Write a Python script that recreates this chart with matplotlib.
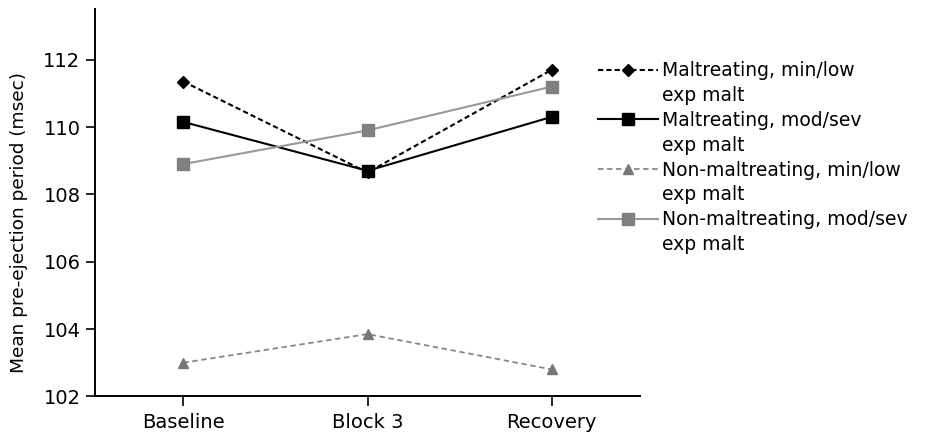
import matplotlib.pyplot as plt
from matplotlib.lines import Line2D

plt.rcParams['font.family'] = ['DejaVu Sans']

# Данные
conditions = ["Baseline", "Block 3", "Recovery"]
malt_low = [111.35, 108.65, 111.7]
malt_sev = [110.15, 108.7, 110.3]
nonmalt_low = [103.0, 103.85, 102.8]
nonmalt_sev = [108.9, 109.9, 111.2]

group_labels = ["Maltreating, min/low", "Maltreating, mod/sev",
                "Non-maltreating, min/low", "Non-maltreating, mod/sev"]
second_line = "exp malt"

x = range(len(conditions))

fig = plt.figure(figsize=(9.27, 4.37), dpi=100)
ax = fig.add_axes([0.1025, 0.093, 0.588, 0.886])

h1, = ax.plot(x, malt_low, linestyle="--", dashes=(2.5, 1.5), color="black", marker="D",
              markersize=6.5, linewidth=1.5)
h2, = ax.plot(x, malt_sev, linestyle="-", color="black", marker="s", markersize=9, linewidth=1.5)
h3, = ax.plot(x, nonmalt_low, linestyle="--", dashes=(3, 2), color="#888888", marker="^",
              markersize=7.5, linewidth=1.3, markeredgecolor="#777777", markerfacecolor="#777777")
h4, = ax.plot(x, nonmalt_sev, linestyle="-", color="#999999", marker="s", markersize=8,
              linewidth=1.5, markeredgecolor="#808080", markerfacecolor="#808080")

ax.set_xlim(-0.48, 2.48)
ax.set_ylim(102, 113.5)
ax.set_xticks(list(x))
ax.set_xticklabels(conditions, fontsize=14)
ax.set_yticks([102, 104, 106, 108, 110, 112])
ax.tick_params(axis="y", labelsize=14, length=6.5, width=1.2, direction="out", pad=4)
ax.tick_params(axis="x", length=7, width=1.2, direction="out", pad=5)
ax.set_ylabel("Mean pre-ejection period (msec)", fontsize=13.3)
ax.yaxis.set_label_coords(-0.123, 0.448)

for s in ["top", "right"]:
    ax.spines[s].set_visible(False)
for s in ["left", "bottom"]:
    ax.spines[s].set_linewidth(1.4)

# легенда: маркер на уровне первой строки подписи
blank = Line2D([], [], linestyle="none")
handles = []
labels = []
for h, lab in zip([h1, h2, h3, h4], group_labels):
    handles += [h, blank]
    labels += [lab, second_line]

ax.legend(handles, labels, loc="upper left", bbox_to_anchor=(0.637, 0.877),
          bbox_transform=fig.transFigure, frameon=False, fontsize=13.5,
          handlelength=3.2, handletextpad=0.2, labelspacing=0.31, borderaxespad=0)

fig.savefig("out.png", dpi=100)
